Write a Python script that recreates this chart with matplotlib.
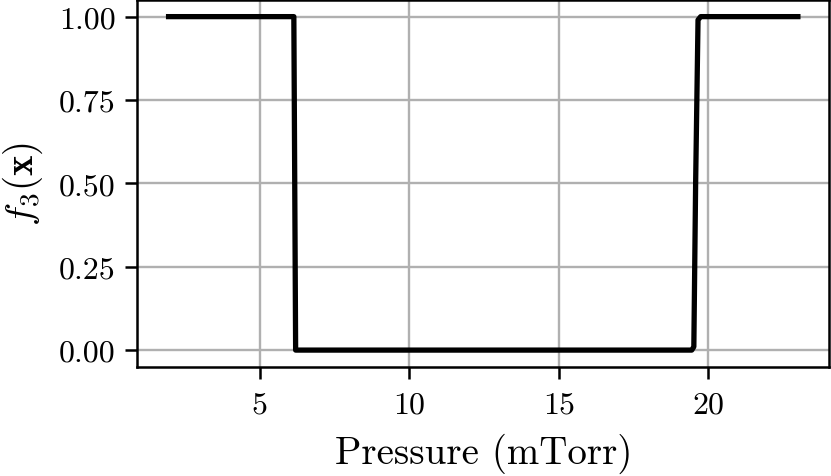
import matplotlib
matplotlib.use("Agg")
import matplotlib.pyplot as plt

plt.rcParams['font.family'] = 'serif'
plt.rcParams['font.serif'] = ['cmr10']
plt.rcParams['mathtext.fontset'] = 'cm'
plt.rcParams['axes.formatter.use_mathtext'] = True

# step-like objective vs pressure
pressure = [1.95, 6.14, 6.20, 19.45, 19.52, 19.58, 19.66, 19.75, 23.0]
f3 = [1.0, 1.0, 0.0, 0.0, 0.01, 0.5, 0.99, 1.0, 1.0]

xticks = [5, 10, 15, 20]
yticks = [0.0, 0.25, 0.5, 0.75, 1.0]
yticklabels = ['0.00', '0.25', '0.50', '0.75', '1.00']

fig = plt.figure(figsize=(8.31, 4.77), dpi=100)
ax = fig.add_axes([0.165, 0.229, 0.833, 0.769])
ax.plot(pressure, f3, color='black', lw=3.8, zorder=3)
ax.set_xticks(xticks)
ax.set_xticklabels([str(t) for t in xticks])
ax.set_yticks(yticks)
ax.set_yticklabels(yticklabels)
ax.grid(True, color='#b0b0b0', lw=1.7)
ax.set_axisbelow(True)
for s in ax.spines.values():
    s.set_linewidth(1.8)
ax.tick_params(labelsize=23, width=1.8, length=8.5, pad=7)
ax.tick_params(axis='x', pad=9)
ax.set_xlabel('Pressure (mTorr)', fontsize=28, labelpad=10)
ax.set_ylabel(r'$f_3(\mathbf{x})$', fontsize=28, labelpad=10)

fig.savefig('out.png', dpi=100)
